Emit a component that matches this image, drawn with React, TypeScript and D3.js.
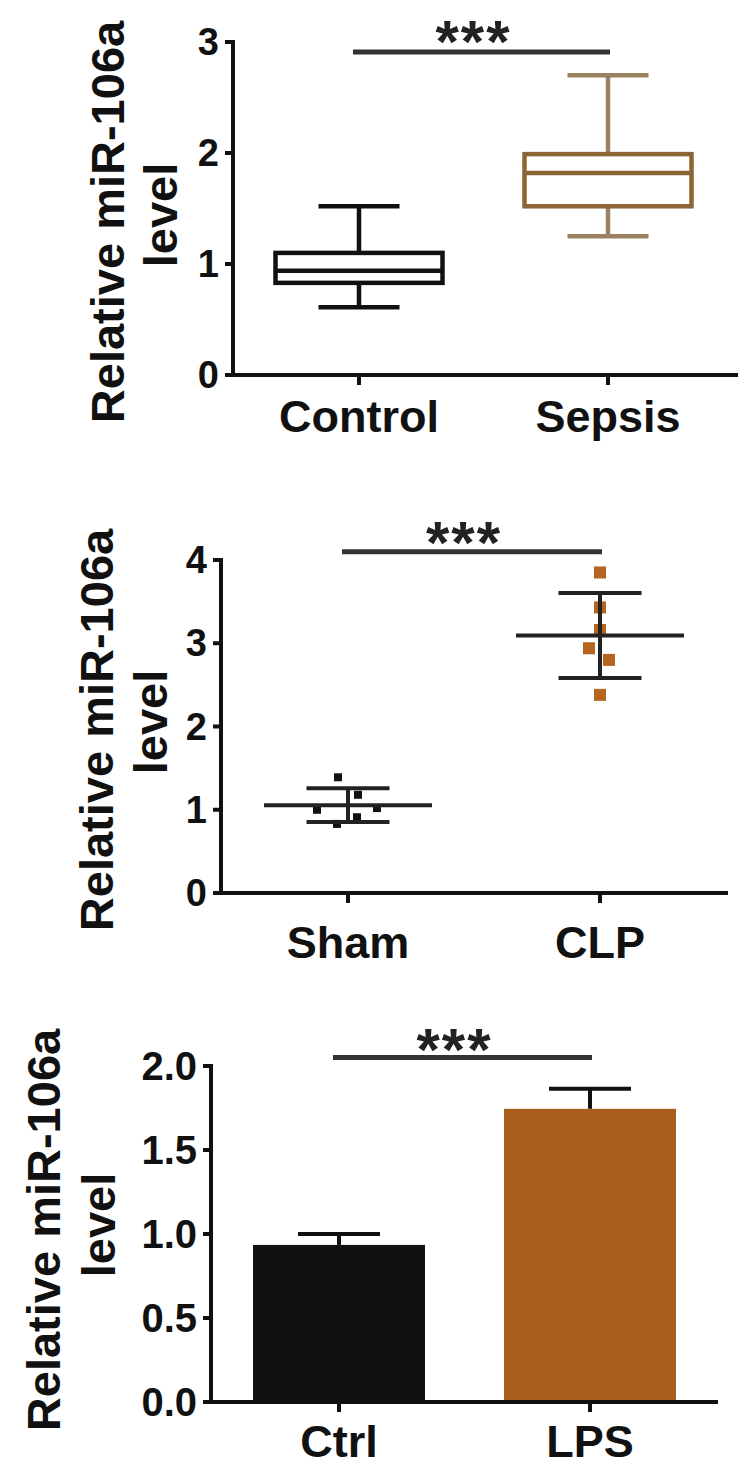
import React from 'react';
import * as d3 from 'd3';

// ---------- DATA ----------
const boxCategories = ['Control', 'Sepsis'];
const boxWhiskerLow = [0.61, 1.25];
const boxQ1 = [0.83, 1.52];
const boxMedian = [0.94, 1.82];
const boxQ3 = [1.1, 1.99];
const boxWhiskerHigh = [1.52, 2.7];
const boxTicks = [0, 1, 2, 3];

const dotCategories = ['Sham', 'CLP'];
const shamValues = [1.39, 1.18, 1.0, 1.02, 0.91, 0.83];
const clpValues = [3.85, 3.43, 3.16, 2.94, 2.8, 2.38];
const dotTicks = [0, 1, 2, 3, 4];

const barCategories = ['Ctrl', 'LPS'];
const barMeans = [0.935, 1.745];
const barErrors = [0.065, 0.12];
const barTicks = [0, 0.5, 1.0, 1.5, 2.0];

const yTitle = 'Relative miR-106a';
const yTitle2 = 'level';
const sigLabel = '***';

// ---------- LAYOUT / STYLE ----------
const FONT = "'Liberation Sans', Arial, Helvetica, sans-serif";
const BROWN_BOX = '#8d6535';
const BROWN_WHISKER = '#9a8160';
const ORANGE_DOT = '#b5651f';
const ORANGE_BAR = '#a85d1c';
const INK = '#111';

const P1 = { axisX: 233, xStart: 225, xEnd: 738, y0: 375, yTop: 42, max: 3, centers: [359, 608], titleX: [107, 160], titleY: [222, 215], labelY: 432, tickFont: 38, sigVal: 2.91, starBase: 62 };
const P2 = { axisX: 221, xStart: 215, xEnd: 728, y0: 893, yTop: 560, max: 4, centers: [348, 600], titleX: [96, 150], titleY: [730, 722], labelY: 958, tickFont: 38, sigVal: 4.1, starBase: 563 };
const P3 = { axisX: 211, xStart: 204, xEnd: 718, y0: 1402, yTop: 1066, max: 2, centers: [339, 590], titleX: [43, 98], titleY: [1230, 1225], labelY: 1457, tickFont: 40, sigVal: 2.05, starBase: 1070 };

const SHAM_JITTER = [-10, 10, -31, 29, 9, -11];
const CLP_JITTER = [0, 0, 0, -11, 9, 0];

function Frame({ p, ticks, cats, fmt }: any) {
  const y = d3.scaleLinear().domain([0, p.max]).range([p.y0, p.yTop]);
  const x = d3.scalePoint<string>().domain(cats).range(p.centers);
  return (
    <g fontFamily={FONT} fontWeight="bold" fill={INK}>
      <line x1={p.axisX} x2={p.axisX} y1={p.y0} y2={p.yTop - 2} stroke={INK} strokeWidth={4} />
      <line x1={p.xStart} x2={p.xEnd} y1={p.y0} y2={p.y0} stroke={INK} strokeWidth={4} />
      {ticks.map((t: number) => (
        <g key={t}>
          <line x1={p.axisX - 8} x2={p.axisX} y1={y(t)} y2={y(t)} stroke={INK} strokeWidth={4} />
          <text x={p.axisX - 14} y={y(t)} textAnchor="end" dominantBaseline="central" fontSize={p.tickFont}>
            {fmt(t)}
          </text>
        </g>
      ))}
      {cats.map((c: string) => (
        <g key={c}>
          <line x1={x(c)} x2={x(c)} y1={p.y0} y2={p.y0 + 10} stroke={INK} strokeWidth={4} />
          <text x={x(c)} y={p.labelY} textAnchor="middle" fontSize={45}>
            {c}
          </text>
        </g>
      ))}
      <text transform={`translate(${p.titleX[0]},${p.titleY[0]}) rotate(-90)`} textAnchor="middle" dominantBaseline="central" fontSize={47}>
        {yTitle}
      </text>
      <text transform={`translate(${p.titleX[1]},${p.titleY[1]}) rotate(-90)`} textAnchor="middle" dominantBaseline="central" fontSize={47}>
        {yTitle2}
      </text>
      <line x1={(x(cats[0]) as number) - 6} x2={(x(cats[1]) as number) + 2} y1={y(p.sigVal)} y2={y(p.sigVal)} stroke="#333" strokeWidth={5} />
      <text x={((x(cats[0]) as number) + (x(cats[1]) as number)) / 2 - 10} y={p.starBase} textAnchor="middle" fontSize={60} letterSpacing={2} fill="#222">
        {sigLabel}
      </text>
    </g>
  );
}

function BoxPanel() {
  const p = P1;
  const y = d3.scaleLinear().domain([0, p.max]).range([p.y0, p.yTop]);
  const x = d3.scalePoint<string>().domain(boxCategories).range(p.centers);
  const boxW = 167;
  const capW = 81;
  const colors = [INK, BROWN_BOX];
  const wColors = [INK, BROWN_WHISKER];
  return (
    <g>
      {boxCategories.map((c, i) => {
        const cx = x(c) as number;
        return (
          <g key={c}>
            <line x1={cx} x2={cx} y1={y(boxQ3[i])} y2={y(boxWhiskerHigh[i])} stroke={wColors[i]} strokeWidth={4.5} />
            <line x1={cx} x2={cx} y1={y(boxQ1[i])} y2={y(boxWhiskerLow[i])} stroke={wColors[i]} strokeWidth={4.5} />
            <line x1={cx - capW / 2} x2={cx + capW / 2} y1={y(boxWhiskerHigh[i])} y2={y(boxWhiskerHigh[i])} stroke={wColors[i]} strokeWidth={4.5} />
            <line x1={cx - capW / 2} x2={cx + capW / 2} y1={y(boxWhiskerLow[i])} y2={y(boxWhiskerLow[i])} stroke={wColors[i]} strokeWidth={4.5} />
            <rect x={cx - boxW / 2} width={boxW} y={y(boxQ3[i])} height={y(boxQ1[i]) - y(boxQ3[i])} fill="none" stroke={colors[i]} strokeWidth={4.5} />
            <line x1={cx - boxW / 2} x2={cx + boxW / 2} y1={y(boxMedian[i])} y2={y(boxMedian[i])} stroke={colors[i]} strokeWidth={4.5} />
          </g>
        );
      })}
      <Frame p={p} ticks={boxTicks} cats={boxCategories} fmt={(t: number) => d3.format('d')(t)} />
    </g>
  );
}

function DotPanel() {
  const p = P2;
  const y = d3.scaleLinear().domain([0, p.max]).range([p.y0, p.yTop]);
  const x = d3.scalePoint<string>().domain(dotCategories).range(p.centers);
  const groups = [
    { vals: shamValues, jit: SHAM_JITTER, color: INK, size: 8 },
    { vals: clpValues, jit: CLP_JITTER, color: ORANGE_DOT, size: 12 },
  ];
  const meanW = 168;
  const capW = 83;
  return (
    <g>
      {groups.map((g, gi) => {
        const cx = x(dotCategories[gi]) as number;
        const m = d3.mean(g.vals) as number;
        const sd = d3.deviation(g.vals) as number;
        return (
          <g key={gi}>
            {g.vals.map((v, i) => (
              <rect key={i} x={cx + g.jit[i] - g.size / 2} y={y(v) - g.size / 2} width={g.size} height={g.size} fill={g.color} />
            ))}
            <line x1={cx} x2={cx} y1={y(m + sd)} y2={y(m - sd)} stroke="#222" strokeWidth={4} />
            <line x1={cx - meanW / 2} x2={cx + meanW / 2} y1={y(m)} y2={y(m)} stroke="#222" strokeWidth={4} />
            <line x1={cx - capW / 2} x2={cx + capW / 2} y1={y(m + sd)} y2={y(m + sd)} stroke="#222" strokeWidth={4} />
            <line x1={cx - capW / 2} x2={cx + capW / 2} y1={y(m - sd)} y2={y(m - sd)} stroke="#222" strokeWidth={4} />
          </g>
        );
      })}
      <Frame p={p} ticks={dotTicks} cats={dotCategories} fmt={(t: number) => d3.format('d')(t)} />
    </g>
  );
}

function BarPanel() {
  const p = P3;
  const y = d3.scaleLinear().domain([0, p.max]).range([p.y0, p.yTop]);
  const x = d3.scalePoint<string>().domain(barCategories).range(p.centers);
  const barW = 172;
  const capW = 82;
  const fills = [INK, ORANGE_BAR];
  return (
    <g>
      {barCategories.map((c, i) => {
        const cx = x(c) as number;
        const top = y(barMeans[i]);
        const eb = y(barMeans[i] + barErrors[i]);
        return (
          <g key={c}>
            <line x1={cx} x2={cx} y1={top} y2={eb} stroke={INK} strokeWidth={4} />
            <line x1={cx - capW / 2} x2={cx + capW / 2} y1={eb} y2={eb} stroke={INK} strokeWidth={4} />
            <rect x={cx - barW / 2} width={barW} y={top} height={p.y0 - top} fill={fills[i]} />
          </g>
        );
      })}
      <Frame p={p} ticks={barTicks} cats={barCategories} fmt={(t: number) => d3.format('.1f')(t)} />
    </g>
  );
}

export default function App() {
  return (
    <svg width={750} height={1473} viewBox="0 0 750 1473" style={{ position: 'absolute', left: 0, top: 0, background: '#fff' }}>
      <rect width={750} height={1473} fill="#fff" />
      <BoxPanel />
      <DotPanel />
      <BarPanel />
    </svg>
  );
}
